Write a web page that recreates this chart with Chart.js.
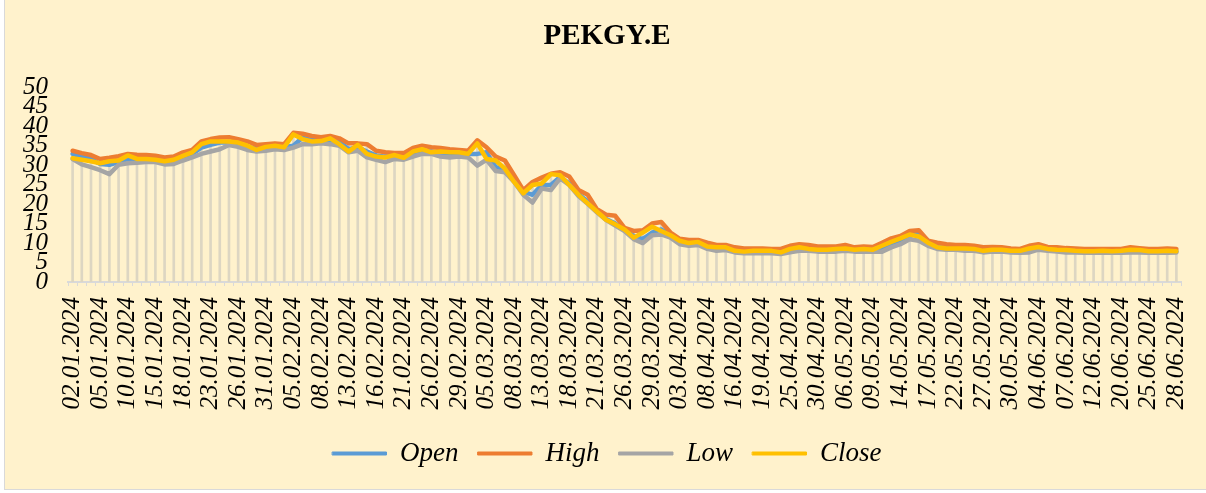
<!DOCTYPE html>
<html lang="en">
<head>
  <meta charset="UTF-8" />
  <title>PEKGY.E</title>
  <script src="https://cdn.jsdelivr.net/npm/chart.js"></script>
  <style>
    body {
      margin: 0;
      background: #ffffff;
    }
    .frame {
      position: absolute;
      left: 4px;
      top: -2px;
      width: 1210px;
      height: 492px;
      background: #FFF2CC;
      border: 1.5px solid #D9D9D9;
      box-sizing: border-box;
    }
    canvas {
      position: absolute;
      left: 0;
      top: 0;
    }
  </style>
</head>
<body>
  <div class="frame"></div>
  <canvas id="stockChart" width="1206" height="493"></canvas>

  <script>
  // trading days, 02.01.2024 - 28.06.2024
  const dates = [
    '02.01.2024','03.01.2024','04.01.2024','05.01.2024','08.01.2024','09.01.2024','10.01.2024','11.01.2024','12.01.2024','15.01.2024',
    '16.01.2024','17.01.2024','18.01.2024','19.01.2024','22.01.2024','23.01.2024','24.01.2024','25.01.2024','26.01.2024','29.01.2024',
    '30.01.2024','31.01.2024','01.02.2024','02.02.2024','05.02.2024','06.02.2024','07.02.2024','08.02.2024','09.02.2024','12.02.2024',
    '13.02.2024','14.02.2024','15.02.2024','16.02.2024','19.02.2024','20.02.2024','21.02.2024','22.02.2024','23.02.2024','26.02.2024',
    '27.02.2024','28.02.2024','29.02.2024','01.03.2024','04.03.2024','05.03.2024','06.03.2024','07.03.2024','08.03.2024','11.03.2024',
    '12.03.2024','13.03.2024','14.03.2024','15.03.2024','18.03.2024','19.03.2024','20.03.2024','21.03.2024','22.03.2024','25.03.2024',
    '26.03.2024','27.03.2024','28.03.2024','29.03.2024','01.04.2024','02.04.2024','03.04.2024','04.04.2024','05.04.2024','08.04.2024',
    '09.04.2024','15.04.2024','16.04.2024','17.04.2024','18.04.2024','19.04.2024','22.04.2024','24.04.2024','25.04.2024','26.04.2024',
    '29.04.2024','30.04.2024','02.05.2024','03.05.2024','06.05.2024','07.05.2024','08.05.2024','09.05.2024','10.05.2024','13.05.2024',
    '14.05.2024','15.05.2024','16.05.2024','17.05.2024','20.05.2024','21.05.2024','22.05.2024','23.05.2024','24.05.2024','27.05.2024',
    '28.05.2024','29.05.2024','30.05.2024','31.05.2024','03.06.2024','04.06.2024','05.06.2024','06.06.2024','07.06.2024','10.06.2024',
    '11.06.2024','12.06.2024','13.06.2024','14.06.2024','20.06.2024','21.06.2024','24.06.2024','25.06.2024','26.06.2024','27.06.2024',
    '28.06.2024'
  ];

  const openVals = [
    32.9, 32.2, 31.6, 30.3, 30.1, 30.8, 31.6, 31.6, 31.8, 31.6,
    31.2, 31.4, 32.0, 32.9, 34.5, 35.2, 35.8, 35.8, 35.4, 34.6,
    34.4, 34.7, 35.0, 34.6, 35.0, 37.1, 36.4, 36.7, 36.4, 36.1,
    34.1, 34.6, 33.5, 32.5, 32.2, 32.2, 32.2, 32.9, 33.7, 33.5,
    33.0, 33.0, 33.1, 32.9, 32.9, 33.3, 29.5, 29.1, 26.1, 23.2,
    22.4, 24.9, 24.9, 27.0, 25.3, 22.6, 20.7, 18.1, 16.2, 15.0,
    13.5, 11.8, 11.0, 12.7, 13.5, 11.8, 10.3, 9.7, 10.0, 8.9,
    8.6, 8.6, 8.0, 7.8, 7.8, 7.8, 7.9, 7.8, 8.3, 8.6,
    8.5, 8.3, 8.5, 8.5, 8.5, 8.3, 8.5, 8.3, 8.5, 9.7,
    10.6, 11.8, 12.7, 10.6, 9.3, 8.9, 8.9, 8.6, 8.5, 8.3,
    8.3, 8.3, 8.0, 8.0, 8.0, 8.6, 8.6, 8.3, 8.2, 8.0,
    7.9, 7.9, 7.9, 7.9, 8.0, 8.0, 8.2, 8.0, 7.9, 7.9, 7.9
  ];

  const highVals = [
    33.7, 33.1, 32.6, 31.6, 31.9, 32.3, 32.9, 32.7, 32.6, 32.4,
    32.0, 32.2, 33.3, 33.9, 36.1, 36.7, 37.1, 37.2, 36.7, 36.1,
    35.2, 35.4, 35.6, 35.4, 38.3, 38.1, 37.5, 37.2, 37.5, 36.9,
    35.6, 35.6, 35.4, 33.7, 33.3, 33.1, 33.1, 34.4, 35.0, 34.6,
    34.4, 34.1, 33.9, 33.7, 36.4, 34.6, 32.2, 31.2, 27.4, 23.6,
    25.7, 26.8, 27.8, 28.2, 27.1, 23.6, 22.4, 18.7, 17.3, 17.0,
    13.9, 13.1, 13.3, 15.0, 15.4, 12.7, 11.1, 10.8, 10.8, 10.1,
    9.5, 9.5, 8.9, 8.6, 8.6, 8.6, 8.5, 8.5, 9.3, 9.7,
    9.5, 9.1, 9.1, 9.1, 9.5, 8.9, 9.1, 9.0, 10.1, 11.2,
    11.8, 13.1, 13.3, 10.6, 10.1, 9.7, 9.5, 9.5, 9.3, 8.9,
    9.0, 8.9, 8.6, 8.5, 9.3, 9.7, 9.0, 8.9, 8.7, 8.6,
    8.5, 8.5, 8.5, 8.5, 8.5, 8.9, 8.7, 8.5, 8.5, 8.6, 8.5
  ];

  const lowVals = [
    31.6, 30.2, 29.5, 28.7, 27.7, 30.1, 30.5, 30.6, 30.8, 30.8,
    30.2, 30.3, 31.2, 32.0, 32.9, 33.5, 34.1, 35.2, 34.7, 33.9,
    33.5, 33.7, 34.1, 33.9, 34.5, 35.4, 35.4, 35.6, 35.4, 35.0,
    33.3, 33.7, 32.0, 31.4, 30.8, 31.6, 31.4, 32.2, 32.9, 32.9,
    32.2, 32.0, 32.2, 32.0, 29.9, 31.4, 28.5, 28.2, 25.7, 22.4,
    20.4, 24.0, 23.6, 26.6, 24.9, 22.1, 20.1, 17.9, 15.9, 14.5,
    13.1, 11.0, 10.0, 12.0, 12.2, 11.4, 9.7, 9.3, 9.5, 8.5,
    8.0, 8.2, 7.6, 7.4, 7.4, 7.4, 7.4, 7.2, 7.6, 8.0,
    8.0, 7.8, 7.8, 7.8, 8.0, 7.8, 7.8, 7.8, 7.8, 8.9,
    9.7, 11.0, 10.6, 9.3, 8.5, 8.3, 8.3, 8.0, 8.0, 7.6,
    7.8, 7.8, 7.6, 7.5, 7.6, 8.3, 8.0, 7.8, 7.6, 7.6,
    7.5, 7.5, 7.5, 7.5, 7.5, 7.6, 7.6, 7.5, 7.5, 7.5, 7.6
  ];

  const closeVals = [
    31.8, 31.4, 31.0, 30.5, 31.0, 31.2, 32.5, 31.6, 31.6, 31.4,
    31.0, 31.4, 32.4, 33.3, 35.4, 36.1, 36.1, 36.1, 35.8, 35.0,
    33.9, 34.7, 35.0, 34.6, 37.9, 36.7, 36.1, 36.2, 36.9, 35.4,
    33.5, 35.2, 32.9, 32.2, 32.0, 32.6, 31.9, 33.5, 34.1, 33.3,
    33.5, 33.3, 33.3, 32.9, 35.6, 31.6, 31.2, 29.1, 25.7, 22.8,
    24.9, 25.3, 27.7, 27.4, 24.9, 22.4, 20.2, 18.1, 16.0, 14.8,
    13.5, 11.4, 12.7, 14.2, 13.1, 12.0, 10.6, 10.0, 10.3, 9.1,
    8.9, 8.9, 8.0, 7.8, 8.0, 8.0, 8.0, 7.6, 8.5, 8.9,
    8.5, 8.3, 8.3, 8.5, 8.6, 8.3, 8.5, 8.3, 9.3, 10.3,
    11.2, 12.2, 11.7, 10.1, 8.9, 8.6, 8.6, 8.6, 8.5, 8.0,
    8.3, 8.3, 8.0, 8.0, 8.6, 9.0, 8.5, 8.3, 8.2, 8.0,
    7.9, 7.9, 8.0, 7.9, 8.0, 8.3, 8.2, 7.9, 7.9, 8.0, 7.9
  ];

  const labelStep = 3;   // every third date is printed on the axis
  const serif = "'Liberation Serif', 'Times New Roman', serif";

  function lineSet(label, data, color, order) {
    return {
      type: 'line',
      label,
      data,
      borderColor: color,
      backgroundColor: color,
      borderWidth: 4.5,
      pointRadius: 0,
      tension: 0,
      borderJoinStyle: 'round',
      borderCapStyle: 'round',
      order
    };
  }

  const ctx = document.getElementById('stockChart').getContext('2d');

  new Chart(ctx, {
    type: 'bar',
    data: {
      labels: dates,
      datasets: [
        lineSet('Open', openVals, '#5B9BD5', 4),
        lineSet('High', highVals, '#ED7D31', 3),
        lineSet('Low', lowVals, '#A5A5A5', 2),
        lineSet('Close', closeVals, '#FFC000', 1),
        {
          // drop lines from each day's high down to the axis
          label: 'drop',
          data: highVals,
          backgroundColor: '#DDD6C2',
          barThickness: 2,
          order: 5
        }
      ]
    },
    options: {
      responsive: false,
      animation: false,
      devicePixelRatio: 1,
      layout: {
        padding: { left: 21, right: 13, top: 0, bottom: 16 }
      },
      plugins: {
        title: {
          display: true,
          text: 'PEKGY.E',
          color: '#000',
          font: { family: serif, size: 29, weight: 'bold' },
          padding: { top: 19, bottom: 33.5 }
        },
        legend: {
          position: 'bottom',
          labels: {
            color: '#000',
            font: { family: serif, size: 27, style: 'italic' },
            boxWidth: 54,
            boxHeight: 3,
            padding: 19.5,
            filter: item => item.text !== 'drop',
            sort: (a, b) => a.datasetIndex - b.datasetIndex,
            generateLabels: chart => Chart.defaults.plugins.legend.labels.generateLabels(chart)
              .map(item => Object.assign(item, { lineWidth: 1 }))
          }
        },
        tooltip: { enabled: false }
      },
      scales: {
        x: {
          offset: true,
          // fixed side room so the plot spans the same width as the original
          afterFit: scale => { scale.paddingLeft = 0; scale.paddingRight = 25; },
          grid: {
            display: true,
            drawOnChartArea: false,
            drawTicks: true,
            tickLength: 4,
            color: '#D9D9D9'
          },
          border: { color: '#D9D9D9', width: 2 },
          ticks: {
            autoSkip: false,
            minRotation: 90,
            maxRotation: 90,
            padding: 11,
            color: '#000',
            font: { family: serif, size: 25, style: 'italic' },
            callback: (value, index) => index % labelStep === 0 ? dates[index] : ''
          }
        },
        y: {
          min: 0,
          max: 50,
          afterFit: scale => { scale.width = 47; },
          grid: { display: false, drawTicks: false },
          border: { display: false },
          ticks: {
            stepSize: 5,
            autoSkip: false,
            padding: 20,
            color: '#000',
            font: { family: serif, size: 25, style: 'italic', lineHeight: 0.8 }
          }
        }
      }
    }
  });
  </script>
</body>
</html>
